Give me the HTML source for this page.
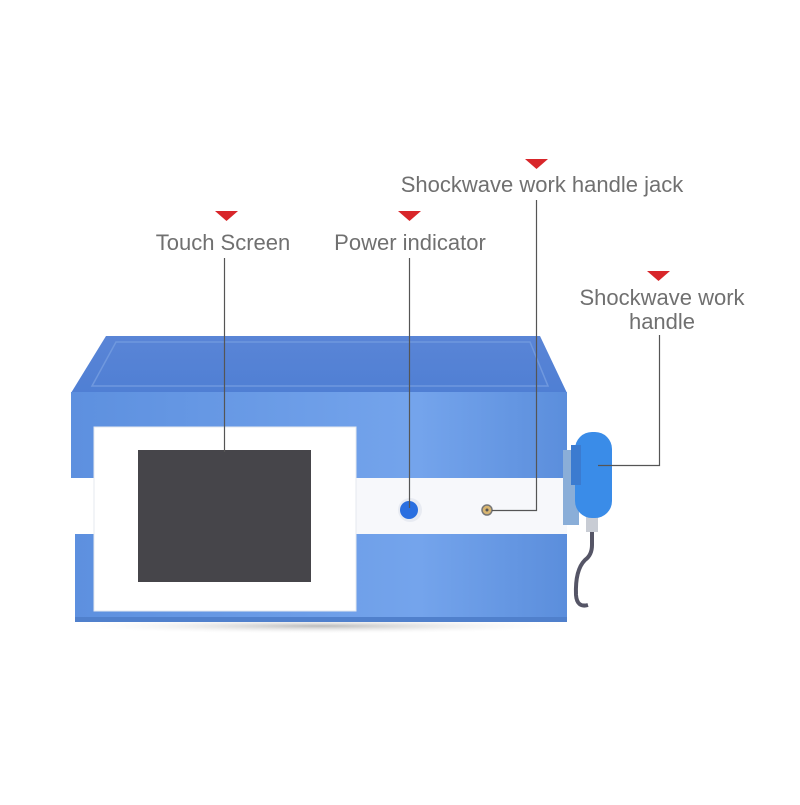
<!DOCTYPE html>
<html><head><meta charset="utf-8"><style>
body{margin:0;background:#fff;}
svg text{font-family:"Liberation Sans",sans-serif;font-size:22px;fill:#707070;}
</style></head><body>
<svg width="800" height="800" viewBox="0 0 800 800">
<defs>
<linearGradient id="top" x1="0" y1="0" x2="0" y2="1"><stop offset="0" stop-color="#5a85d6"/><stop offset="1" stop-color="#4f7fd4"/></linearGradient>
<linearGradient id="front" x1="0" y1="0" x2="1" y2="0"><stop offset="0" stop-color="#5d90df"/><stop offset="0.7" stop-color="#74a4ec"/><stop offset="1" stop-color="#5b8edc"/></linearGradient>
<radialGradient id="shadow" cx="0.5" cy="0.5" r="0.5"><stop offset="0" stop-color="#bbb"/><stop offset="1" stop-color="#fff" stop-opacity="0"/></radialGradient>
</defs>
<ellipse cx="320" cy="626" rx="260" ry="8" fill="url(#shadow)"/>
<polygon points="106,336 540,336 567,393 71,393" fill="url(#top)"/>
<polygon points="116,342 530,342 548,386 92,386" fill="none" stroke="#6f98de" stroke-width="1.5"/>
<rect x="71" y="392" width="496" height="86" fill="url(#front)"/>
<rect x="71" y="478" width="496" height="56" fill="#f7f8fb"/>
<rect x="75" y="534" width="492" height="86" fill="url(#front)"/>
<rect x="75" y="617" width="492" height="5" fill="#5080cc"/>
<rect x="71" y="478" width="24" height="56" fill="#fff"/>
<rect x="94" y="427" width="262" height="184" fill="#ffffff"/>
<rect x="94" y="427" width="262" height="184" fill="none" stroke="#e6e9ef" stroke-width="1"/>
<rect x="138" y="450" width="173" height="132" fill="#46454a"/>
<circle cx="410" cy="510" r="12" fill="#e8ebf2"/>
<circle cx="409" cy="510" r="9" fill="#2a6fe0"/>
<circle cx="487" cy="510" r="5" fill="#d8b570" stroke="#777" stroke-width="1.5"/>
<circle cx="487" cy="510" r="1.5" fill="#555"/>
<rect x="563" y="450" width="16" height="75" fill="#8aaed8"/>
<path d="M592,515 L592,545 Q592,555 585,560 Q575,570 576,595 Q577,608 588,605" fill="none" stroke="#556" stroke-width="4"/>
<rect x="586" y="508" width="12" height="24" fill="#c8ccd4"/>
<rect x="575" y="432" width="37" height="86" rx="17" fill="#3a8ce8"/>
<rect x="571" y="445" width="10" height="40" fill="#3b7bd0"/>
<g stroke="#555" stroke-width="1.2" fill="none">
<line x1="224.5" y1="258" x2="224.5" y2="452"/>
<line x1="409.5" y1="258" x2="409.5" y2="508"/>
<polyline points="536.5,200 536.5,510.5 492,510.5"/>
<polyline points="659.5,335 659.5,465.5 598,465.5"/>
</g>
<g fill="#d8262a">
<polygon points="215,211 238,211 226.5,221"/>
<polygon points="398,211 421,211 409.5,221"/>
<polygon points="525,159 548,159 536.5,169"/>
<polygon points="647,271 670,271 658.5,281"/>
</g>
<text x="223" y="250" text-anchor="middle">Touch Screen</text>
<text x="410" y="250" text-anchor="middle">Power indicator</text>
<text x="542" y="192" text-anchor="middle">Shockwave work handle jack</text>
<text x="662" y="305" text-anchor="middle">Shockwave work</text>
<text x="662" y="329" text-anchor="middle">handle</text>
</svg>
</body></html>
